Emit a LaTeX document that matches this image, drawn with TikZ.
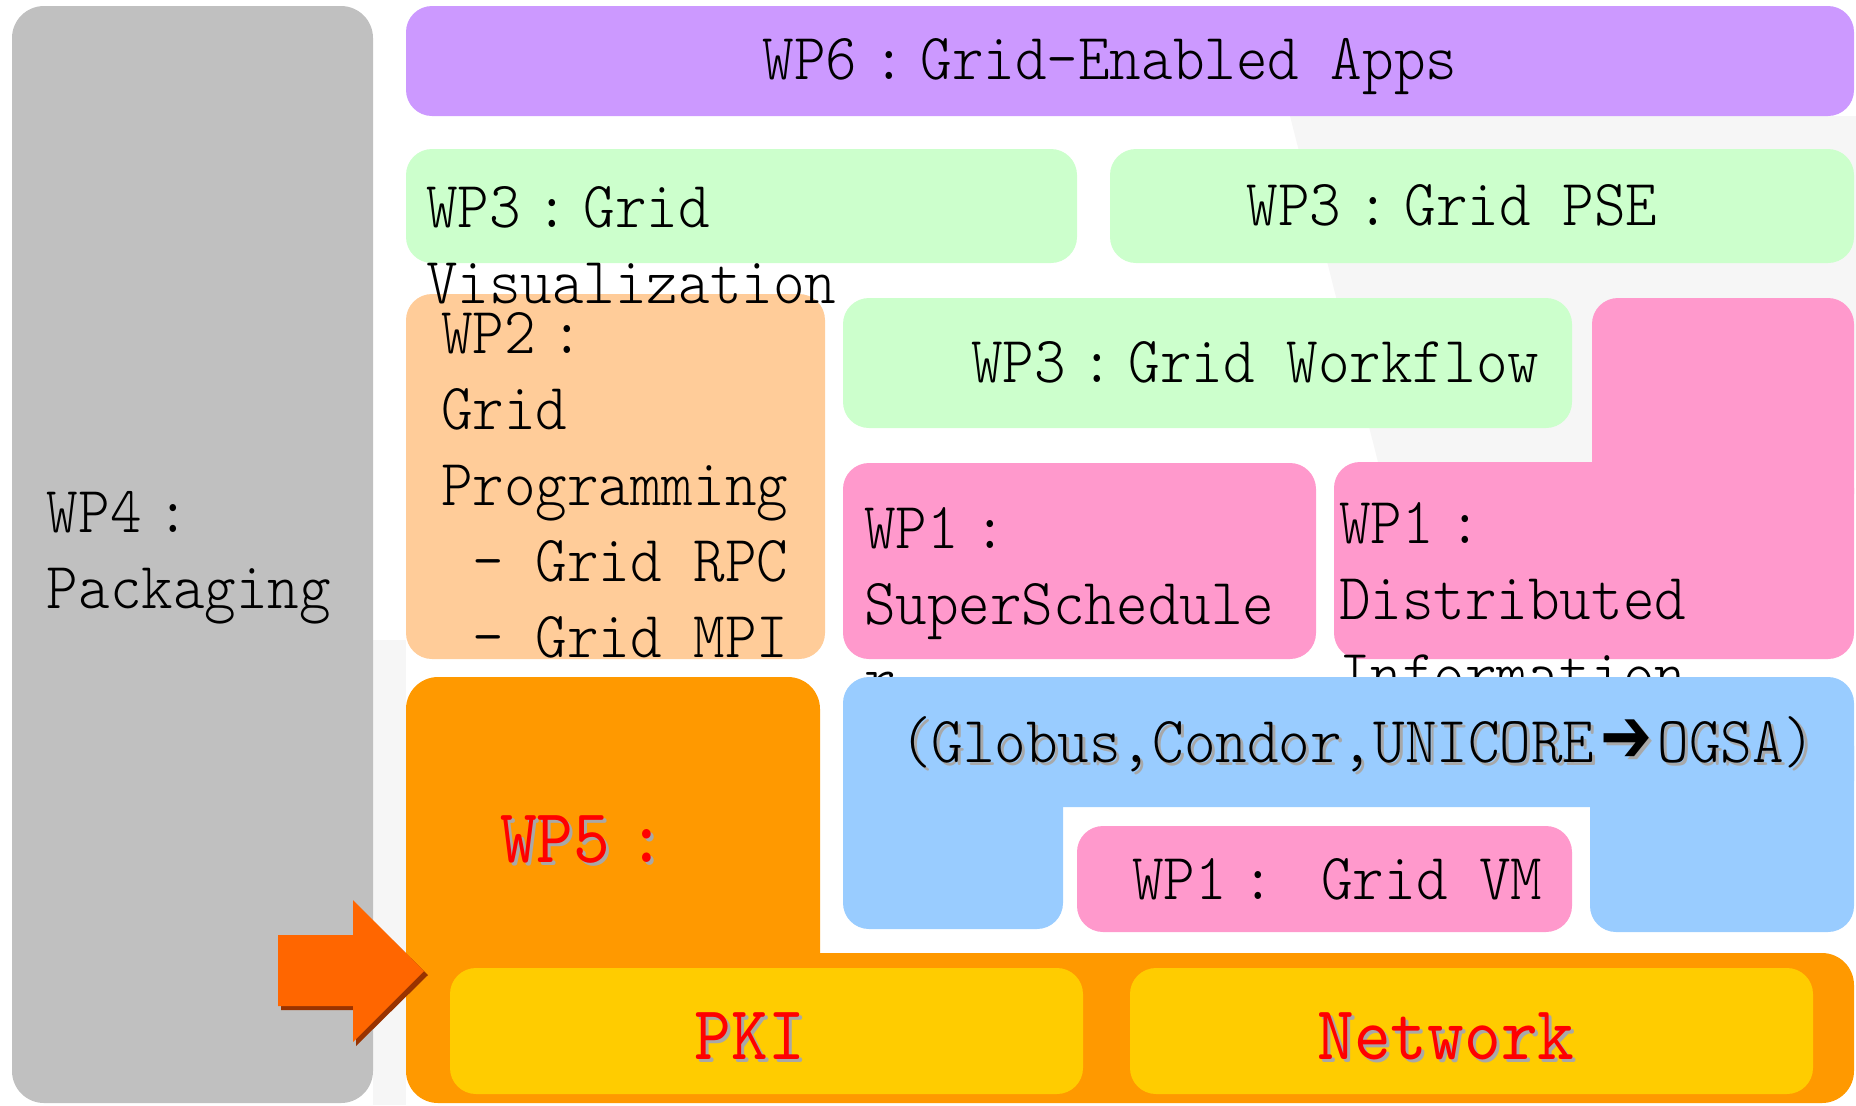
\documentclass[tikz,border=0pt]{standalone}
\usepackage{fontspec}
\setmainfont{lmmonolt10-regular}[Extension=.otf, FakeStretch=0.912]
\newfontfamily\redfont{lmmono10-regular}[Extension=.otf, FakeStretch=0.912]
\newfontfamily\symfont{DejaVu Sans}[FakeStretch=0.8]

\definecolor{pkggray}{HTML}{C0C0C0}
\definecolor{appviolet}{HTML}{CC99FF}
\definecolor{toolgreen}{HTML}{CCFFCC}
\definecolor{progpeach}{HTML}{FFCC99}
\definecolor{mwpink}{HTML}{FF99CC}
\definecolor{mwblue}{HTML}{99CCFF}
\definecolor{secorange}{HTML}{FF9900}
\definecolor{netyellow}{HTML}{FFCC00}
\definecolor{arroworange}{HTML}{FF6600}
\definecolor{arrowshade}{HTML}{993300}
\definecolor{txtshade}{HTML}{A8A8A8}
\definecolor{wmark}{HTML}{F6F6F6}

\newcommand{\fcolon}{\makebox[0.958em]{:}}
\newcommand{\bigarrow}{\makebox[0.958em]{\symfont\bfseries\fontsize{22}{22}\selectfont ➔}}
\newcommand{\shadowed}[2]{\makebox[0pt][l]{\hspace{0.03cm}\raisebox{-0.03cm}{\color{txtshade}#2}}{\color{#1}#2}}

\begin{document}
\begin{tikzpicture}[
  x=0.01cm, y=-0.01cm,
  every node/.style={inner sep=0pt, outer sep=0pt},
  wptext/.style={font=\fontsize{18.75}{21.6}\selectfont, align=left, anchor=base west},
  redtext/.style={font=\redfont\fontsize{21.8}{26}\selectfont, anchor=base},
  bigbox/.style={rounded corners=0.32cm},
  box/.style={rounded corners=0.26cm}
]
\useasboundingbox (0,0) rectangle (1856,1105);

% faint logo in the background
\fill[wmark] (1290,116) -- (1856,116) -- (1856,470) -- (1380,470) -- cycle;
\fill[wmark] (373,640) -- (406,640) -- (406,1105) -- (373,1105) -- cycle;

% layers
\fill[pkggray, bigbox] (12,6) rectangle (373,1103);
\fill[appviolet, box] (406,6) rectangle (1854,116);
\fill[toolgreen, box] (406,149) rectangle (1077,263);
\fill[toolgreen, box] (1110,149) rectangle (1854,263);
\fill[progpeach, box] (406,294) rectangle (825,659);
\fill[toolgreen, box] (843,298) rectangle (1572,428);
\fill[mwpink, box] (843,463) rectangle (1316,659);
\fill[mwpink, box] (1334,462) rectangle (1854,659);
\fill[mwpink, box] (1592,298) rectangle (1854,520);

% multi-line nodes sit on the baseline of their last line
\node[wptext] (WP4) at (47,608) {WP4\fcolon\\Packaging};
\node[wptext, anchor=base] (WP6) at (1110,79) {WP6\fcolon Grid-Enabled Apps};
\node[wptext] (Viz) at (426,303) {WP3\fcolon Grid\\Visualization};
\node[wptext, anchor=base] (PSE) at (1452,225) {WP3\fcolon Grid PSE};
\node[wptext] (Prog) at (441,657) {WP2\fcolon\\Grid\\Programming\\~- Grid RPC\\~- Grid MPI};
\node[wptext] (Flow) at (971,382) {WP3\fcolon Grid Workflow};
\node[wptext] (Sched) at (864,700) {WP1\fcolon\\SuperSchedule\\r};
\node[wptext] (Info) at (1339,695) {WP1\fcolon\\Distributed\\Information};

% middleware and security
\fill[mwblue, box] (843,677) rectangle (1854,807);
\fill[mwblue, box] (843,720) rectangle (1063,929);
\fill[mwblue, box] (1590,720) rectangle (1854,932);
\fill[mwpink, box] (1077,826) rectangle (1572,932);
\fill[secorange, bigbox] (406,677) rectangle (820,1010);
\fill[secorange, bigbox] (406,953) rectangle (1854,1103);
\fill[netyellow, box] (450,968) rectangle (1083,1094);
\fill[netyellow, box] (1130,968) rectangle (1813,1094);

% arrow
\fill[arrowshade] (281,939) -- (356,939) -- (356,904) -- (428,975) -- (356,1046) -- (356,1010) -- (281,1010) -- cycle;
\fill[arroworange] (278,935) -- (353,935) -- (353,900) -- (424,971) -- (353,1042) -- (353,1006) -- (278,1006) -- cycle;

\node[wptext] (Globus) at (900,762) {\shadowed{black}{(Globus,Condor,UNICORE\bigarrow OGSA)}};
\node[wptext] (VM) at (1132,899) {WP1\fcolon\ Grid VM};
\node[redtext, anchor=base west] (WP5) at (500,862) {\shadowed{red}{WP5\fcolon}};
\node[redtext] (PKI) at (750,1059) {\shadowed{red}{PKI}};
\node[redtext] (Net) at (1446,1059) {\shadowed{red}{Network}};
\end{tikzpicture}
\end{document}
